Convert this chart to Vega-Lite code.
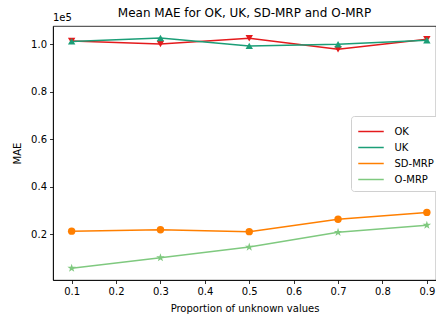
{
  "$schema": "https://vega.github.io/schema/vega-lite/v6.json",
  "width": 383,
  "height": 254,
  "autosize": {"type": "none"},
  "padding": {"left": 53, "top": 26, "right": 0, "bottom": 39},
  "config": {
    "font": "DejaVu Sans",
    "view": {"stroke": "black", "strokeWidth": 0.8},
    "axis": {
      "grid": false,
      "domainColor": "black",
      "domainWidth": 0.8,
      "tickColor": "black",
      "tickWidth": 0.8,
      "tickSize": 3.5,
      "labelFontSize": 10,
      "labelColor": "black",
      "labelPadding": 3,
      "titleFontSize": 10,
      "titleFontWeight": "normal",
      "titleColor": "black"
    }
  },
  "title": {
    "text": "Mean MAE for OK, UK, SD-MRP and O-MRP",
    "fontSize": 12,
    "fontWeight": "normal",
    "color": "black",
    "offset": 6,
    "dy": 13
  },
  "data": {
    "values": [
      {"p": 0.1, "method": "OK", "mae": 101260},
      {"p": 0.3, "method": "OK", "mae": 100000},
      {"p": 0.5, "method": "OK", "mae": 102400},
      {"p": 0.7, "method": "OK", "mae": 97800},
      {"p": 0.9, "method": "OK", "mae": 102000},
      {"p": 0.1, "method": "UK", "mae": 101100},
      {"p": 0.3, "method": "UK", "mae": 102500},
      {"p": 0.5, "method": "UK", "mae": 99200},
      {"p": 0.7, "method": "UK", "mae": 99900},
      {"p": 0.9, "method": "UK", "mae": 101600},
      {"p": 0.1, "method": "SD-MRP", "mae": 21200},
      {"p": 0.3, "method": "SD-MRP", "mae": 21800},
      {"p": 0.5, "method": "SD-MRP", "mae": 21000},
      {"p": 0.7, "method": "SD-MRP", "mae": 26200},
      {"p": 0.9, "method": "SD-MRP", "mae": 29100},
      {"p": 0.1, "method": "O-MRP", "mae": 5600},
      {"p": 0.3, "method": "O-MRP", "mae": 10000},
      {"p": 0.5, "method": "O-MRP", "mae": 14500},
      {"p": 0.7, "method": "O-MRP", "mae": 20700},
      {"p": 0.9, "method": "O-MRP", "mae": 23700}
    ]
  },
  "layer": [
    {
      "mark": {"type": "line", "strokeWidth": 1.5},
      "encoding": {
        "x": {
          "field": "p", "type": "quantitative",
          "scale": {"domain": [0.058, 0.9206], "nice": false, "zero": false},
          "axis": {"values": [0.1, 0.2, 0.3, 0.4, 0.5, 0.6, 0.7, 0.8, 0.9], "format": ".1f", "title": "Proportion of unknown values", "titlePadding": 7}
        },
        "y": {
          "field": "mae", "type": "quantitative",
          "scale": {"domain": [632, 107580], "nice": false, "zero": false},
          "axis": {"values": [20000, 40000, 60000, 80000, 100000], "labelExpr": "format(datum.value / 100000, '.1f')", "title": "MAE", "titlePadding": 8}
        },
        "color": {
          "field": "method", "type": "nominal",
          "scale": {"domain": ["OK", "UK", "SD-MRP", "O-MRP"], "range": ["#e41a1c", "#1b9e77", "#ff7f00", "#7fc97f"]},
          "legend": {
            "title": null,
            "orient": "none",
            "legendX": 298,
            "legendY": 90,
            "padding": 6,
            "strokeColor": "#d0d0d0",
            "fillColor": "white",
            "cornerRadius": 3,
            "labelFontSize": 10,
            "labelColor": "black",
            "symbolType": "M-1.5,0L1.5,0",
            "symbolSize": 289,
            "symbolStrokeWidth": 1.5,
            "symbolOffset": 4.5,
            "labelOffset": 14,
            "rowPadding": 1
          }
        }
      }
    },
    {
      "transform": [{"filter": "datum.method === 'OK'"}],
      "mark": {"type": "point", "filled": true, "opacity": 1, "shape": "triangle-down", "size": 55},
      "encoding": {
        "x": {"field": "p", "type": "quantitative"},
        "y": {"field": "mae", "type": "quantitative"},
        "color": {"field": "method", "type": "nominal"}
      }
    },
    {
      "transform": [{"filter": "datum.method === 'UK'"}],
      "mark": {"type": "point", "filled": true, "opacity": 1, "shape": "triangle-up", "size": 55},
      "encoding": {
        "x": {"field": "p", "type": "quantitative"},
        "y": {"field": "mae", "type": "quantitative"},
        "color": {"field": "method", "type": "nominal"}
      }
    },
    {
      "transform": [{"filter": "datum.method === 'SD-MRP'"}],
      "mark": {"type": "point", "filled": true, "opacity": 1, "shape": "circle", "size": 55},
      "encoding": {
        "x": {"field": "p", "type": "quantitative"},
        "y": {"field": "mae", "type": "quantitative"},
        "color": {"field": "method", "type": "nominal"}
      }
    },
    {
      "transform": [{"filter": "datum.method === 'O-MRP'"}],
      "mark": {"type": "point", "filled": true, "opacity": 1, "shape": "M0,-1L0.225,-0.309L0.951,-0.309L0.363,0.118L0.588,0.809L0,0.382L-0.588,0.809L-0.363,0.118L-0.951,-0.309L-0.225,-0.309Z", "size": 80},
      "encoding": {
        "x": {"field": "p", "type": "quantitative"},
        "y": {"field": "mae", "type": "quantitative"},
        "color": {"field": "method", "type": "nominal"}
      }
    },
    {
      "data": {"values": [{"t": "1e5"}]},
      "mark": {"type": "text", "align": "left", "baseline": "bottom", "dy": -3, "fontSize": 10, "color": "black"},
      "encoding": {
        "x": {"datum": 0.058, "type": "quantitative"},
        "y": {"datum": 107580, "type": "quantitative"},
        "text": {"field": "t"}
      }
    }
  ]
}
